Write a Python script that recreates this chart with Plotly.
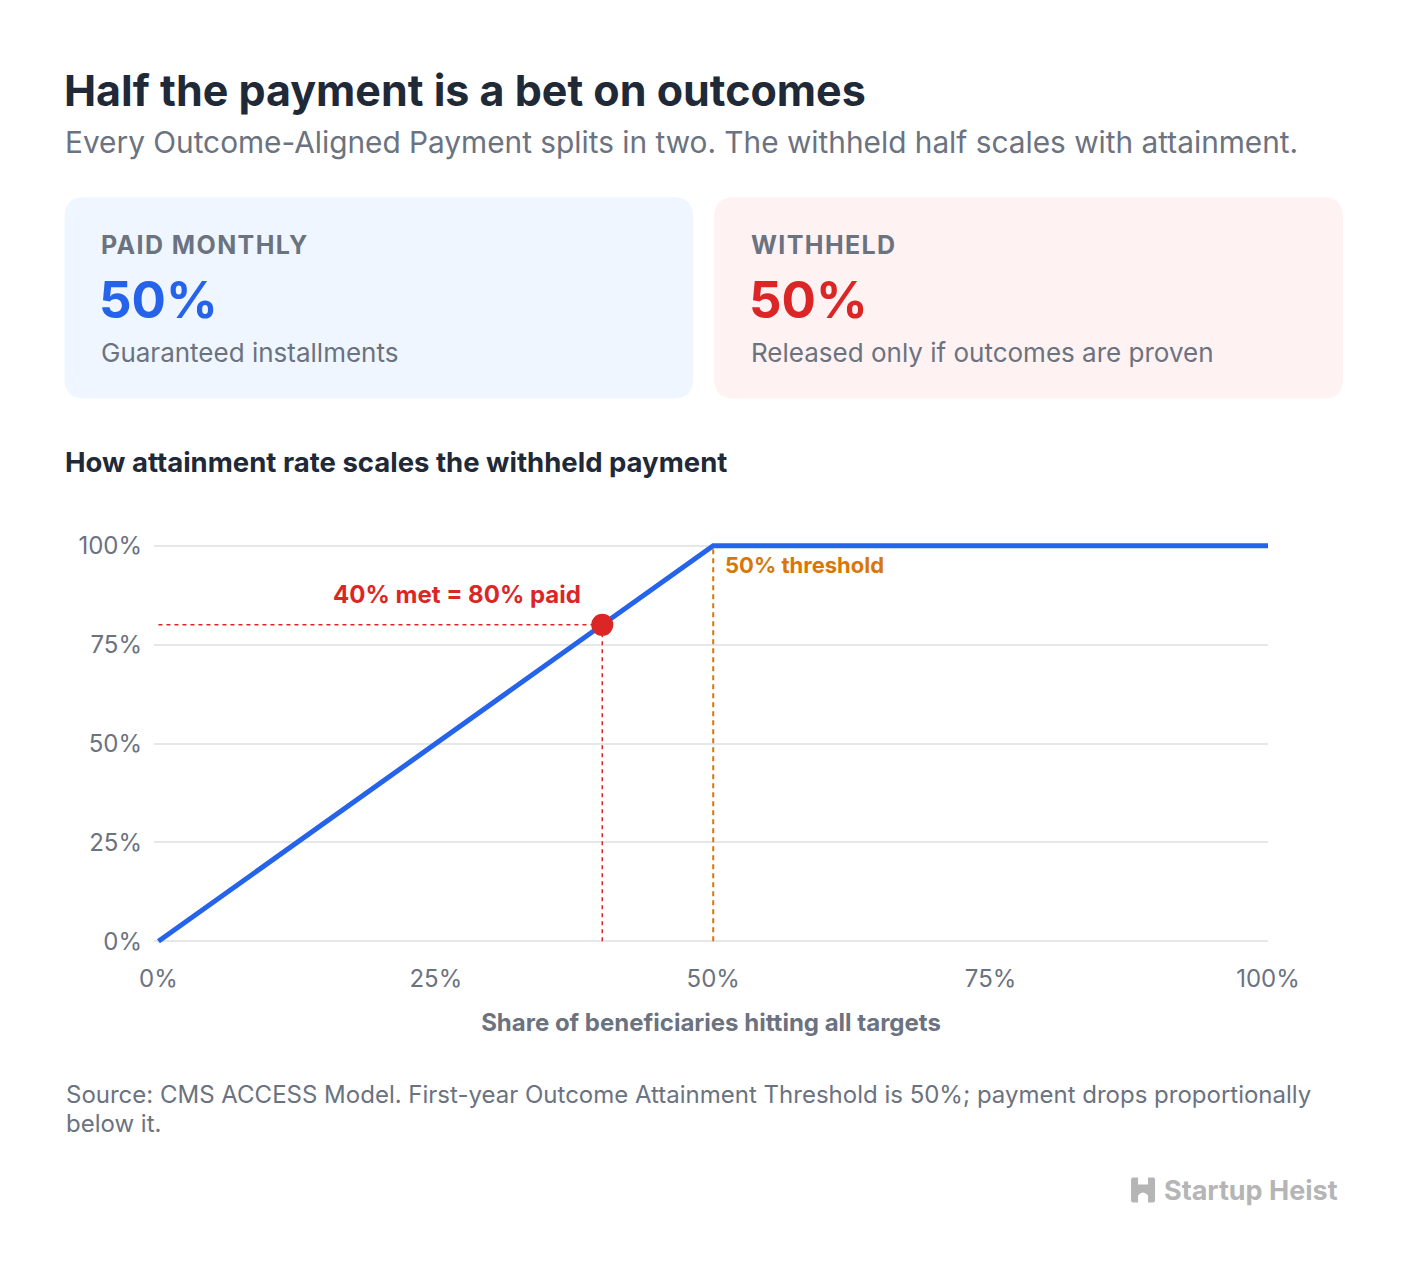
import plotly.graph_objects as go

# ---- data ----
attain_x = [0.0, 0.5, 1.0]
paid_y = [0.0, 1.0, 1.0]
example_x = 0.4
example_y = 0.8
threshold_x = 0.5
x_ticks = [0, 0.25, 0.5, 0.75, 1.0]
x_tick_labels = ["0%", "25%", "50%", "75%", "100%"]
y_ticks = [0, 0.25, 0.5, 0.75, 1.0]
y_tick_labels = ["0%", "25%", "50%", "75%", "100%"]
card_labels = ["PAID MONTHLY", "WITHHELD"]
card_values = ["50%", "50%"]
card_notes = ["Guaranteed installments", "Released only if outcomes are proven"]

FW, FH = 1408, 1276
FONT = "Inter"
DARK = "#1f2937"
GRAY = "#6b7280"
BLUE = "#2563eb"
RED = "#dc2626"
ORANGE = "#d97706"

# plot-area geometry (pixels)
x0_px, x1_px = 158, 1268
y0_px, y1_px = 941, 546
xr = [-0.004, 1.0]
yr = [-0.012, 1.012]
ux = (x1_px - x0_px)
uy = (y0_px - y1_px)
L = x0_px + xr[0] * ux
R = FW - (x0_px + xr[1] * ux)
T = y1_px - (yr[1] - 1) * uy
B = FH - (y0_px - yr[0] * uy)
W = FW - L - R
H = FH - T - B


def px(x):
    return (x - L) / W


def py(y):
    return (FH - B - y) / H


def rrect(xa, ya, xb, yb, r):
    def P(x, y):
        return f"{px(x):.5f},{py(y):.5f}"
    d = f"M {P(xa + r, ya)} L {P(xb - r, ya)} Q {P(xb, ya)} {P(xb, ya + r)} "
    d += f"L {P(xb, yb - r)} Q {P(xb, yb)} {P(xb - r, yb)} "
    d += f"L {P(xa + r, yb)} Q {P(xa, yb)} {P(xa, yb - r)} "
    d += f"L {P(xa, ya + r)} Q {P(xa, ya)} {P(xa + r, ya)} Z"
    return d


fig = go.Figure()

# dashed guide lines
fig.add_trace(go.Scatter(x=[0, example_x], y=[example_y, example_y], mode="lines",
                         line=dict(color=RED, width=1.5, dash="4px,4px"), hoverinfo="skip"))
fig.add_trace(go.Scatter(x=[example_x, example_x], y=[0, example_y], mode="lines",
                         line=dict(color=RED, width=1.5, dash="4px,4px"), hoverinfo="skip"))
fig.add_trace(go.Scatter(x=[threshold_x, threshold_x], y=[0, 1], mode="lines",
                         line=dict(color=ORANGE, width=2, dash="5px,4px"), hoverinfo="skip"))
# main curve
fig.add_trace(go.Scatter(x=attain_x, y=paid_y, mode="lines",
                         line=dict(color=BLUE, width=5), hoverinfo="skip"))
# example point
fig.add_trace(go.Scatter(x=[example_x], y=[example_y], mode="markers",
                         marker=dict(color=RED, size=22), hoverinfo="skip", cliponaxis=False))

shapes = [
    dict(type="path", xref="paper", yref="paper", path=rrect(64, 198, 693, 399, 20),
         fillcolor="#eff6ff", line=dict(width=0), layer="below"),
    dict(type="path", xref="paper", yref="paper", path=rrect(714, 198, 1343, 399, 20),
         fillcolor="#fef2f2", line=dict(width=0), layer="below"),
    # logo icon
    dict(type="path", xref="paper", yref="paper",
         path=(f"M {px(1131):.5f},{py(1179):.5f} Q {px(1131):.5f},{py(1177):.5f} {px(1133):.5f},{py(1177):.5f} "
               f"L {px(1138):.5f},{py(1177):.5f} L {px(1138):.5f},{py(1184):.5f} "
               f"L {px(1148):.5f},{py(1184):.5f} L {px(1148):.5f},{py(1177):.5f} L {px(1153):.5f},{py(1177):.5f} "
               f"Q {px(1155):.5f},{py(1177):.5f} {px(1155):.5f},{py(1179):.5f} "
               f"L {px(1155):.5f},{py(1200):.5f} Q {px(1155):.5f},{py(1202):.5f} {px(1153):.5f},{py(1202):.5f} "
               f"L {px(1148):.5f},{py(1202):.5f} L {px(1148):.5f},{py(1195):.5f} "
               f"Q {px(1143):.5f},{py(1189):.5f} {px(1138):.5f},{py(1195):.5f} L {px(1138):.5f},{py(1202):.5f} "
               f"L {px(1133):.5f},{py(1202):.5f} Q {px(1131):.5f},{py(1202):.5f} {px(1131):.5f},{py(1200):.5f} Z"),
         fillcolor="#b5b5b5", line=dict(width=0)),
]

ann = []


def text(x, y, s, size, color, bold=False, xanchor="left", yanchor="middle", spacing=None):
    t = f"<b>{s}</b>" if bold else s
    if spacing:
        t = f'<span style="letter-spacing:{spacing}px">{t}</span>'
    ann.append(dict(x=px(x), y=py(y), xref="paper", yref="paper", text=t, showarrow=False,
                    xanchor=xanchor, yanchor=yanchor,
                    font=dict(family=FONT, size=size, color=color)))


text(62, 91, "Half the payment is a bet on outcomes", 43, DARK, bold=True)
text(63, 143, "Every Outcome-Aligned Payment splits in two. The withheld half scales with attainment.", 29.8, GRAY)

for i, cx in enumerate([99, 749]):
    text(cx, 246, card_labels[i], 25, GRAY, bold=True, spacing=1.4)
    text(cx - 2, 300, card_values[i], 51, BLUE if i == 0 else RED, bold=True)
    text(cx, 353, card_notes[i], 26, GRAY)

text(63, 462, "How attainment rate scales the withheld payment", 27.5, DARK, bold=True)

# chart annotations
ann.append(dict(x=example_x, y=example_y, xref="x", yref="y", text="<b>40% met = 80% paid</b>",
                showarrow=False, xanchor="center", yanchor="bottom", xshift=-145, yshift=14,
                font=dict(family=FONT, size=24, color=RED)))
ann.append(dict(x=threshold_x, y=1.0, xref="x", yref="y", text="<b>50% threshold</b>",
                showarrow=False, xanchor="left", yanchor="top", xshift=10, yshift=-4,
                font=dict(family=FONT, size=22, color=ORANGE)))

text(64, 1094, "Source: CMS ACCESS Model. First-year Outcome Attainment Threshold is 50%; payment drops proportionally", 24, GRAY)
text(64, 1123, "below it.", 24, GRAY)
text(1162, 1190, "Startup Heist", 27, "#b5b5b5", bold=True)

fig.update_layout(
    width=FW, height=FH,
    margin=dict(l=L, r=R, t=T, b=B, autoexpand=False),
    paper_bgcolor="white", plot_bgcolor="white",
    showlegend=False,
    shapes=shapes, annotations=ann,
    font=dict(family=FONT, color=GRAY),
    xaxis=dict(range=xr, tickvals=x_ticks, ticktext=x_tick_labels, showgrid=False, zeroline=False,
               showline=False, ticks="", tickfont=dict(size=24, color=GRAY), ticklabelstandoff=16,
               title=dict(text="<b>Share of beneficiaries hitting all targets</b>",
                          font=dict(size=24, color=GRAY), standoff=22),
               fixedrange=True),
    yaxis=dict(range=yr, tickvals=y_ticks, ticktext=y_tick_labels, showgrid=True, gridcolor="#e5e7eb",
               gridwidth=1.5, zeroline=False, showline=False, ticks="", tickfont=dict(size=24, color=GRAY),
               ticklabelstandoff=11, fixedrange=True),
)

fig.write_html("out.html", config={"displayModeBar": False})
